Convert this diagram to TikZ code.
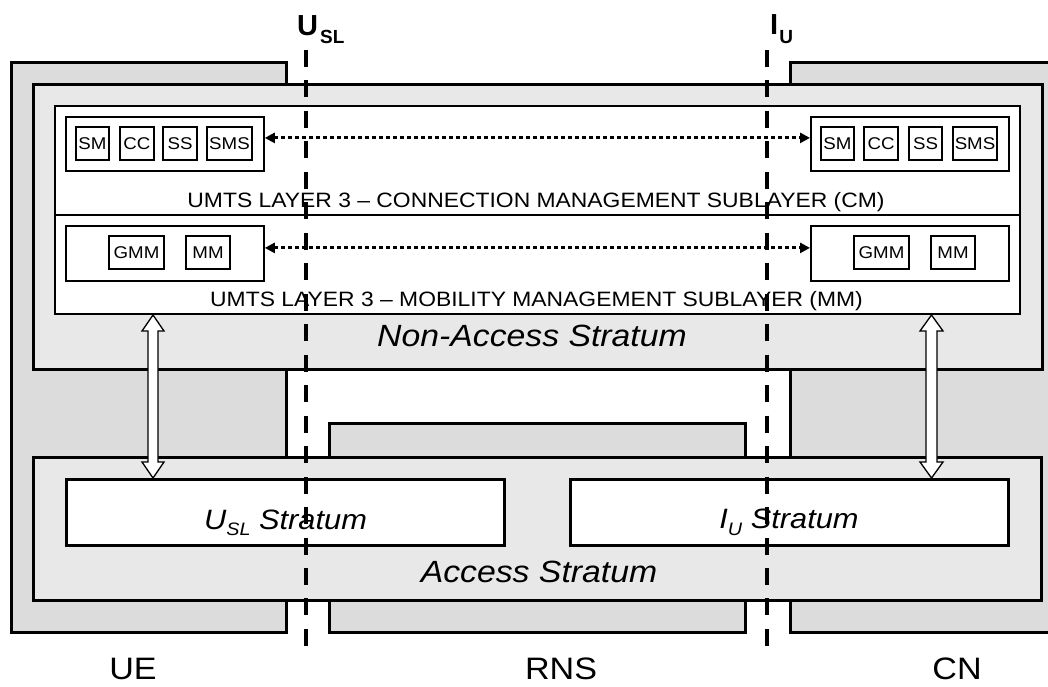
\documentclass[tikz,border=0pt]{standalone}
\usepackage{fontspec}
\setmainfont[FakeStretch=1.1]{Liberation Sans}
\newfontfamily\plainsans{Liberation Sans}
\usetikzlibrary{arrows.meta,calc}

\definecolor{regiongray}{RGB}{220,220,220}
\definecolor{stratgray}{RGB}{232,232,232}

\newcommand{\fs}[1]{\fontsize{#1}{#1}\selectfont}

% hollow double-headed arrow between two named tip points
% #1 top tip, #2 bottom tip, #3 shaft half width, #4 head half width, #5 head length
\newcommand{\hollowarrow}[5]{%
  \draw[hollow] let \p1=(#1), \p2=(#2) in
    (\x1,\y1) -- (\x1+#4,\y1-#5) -- (\x1+#3,\y1-#5) -- (\x2+#3,\y2+#5)
    -- (\x2+#4,\y2+#5) -- (\x2,\y2) -- (\x2-#4,\y2+#5) -- (\x2-#3,\y2+#5)
    -- (\x1-#3,\y1-#5) -- (\x1-#4,\y1-#5) -- cycle;}

\begin{document}
\begin{tikzpicture}[x=1pt,y=-1pt,
  region/.style={draw, line width=3pt, fill=regiongray, anchor=north west, inner sep=0pt},
  stratum/.style={draw, line width=3pt, fill=stratgray, anchor=north west, inner sep=0pt},
  band/.style={draw, line width=2pt, fill=white, anchor=north west, inner sep=0pt},
  group/.style={draw, line width=1.8pt, fill=white, anchor=north west, inner sep=0pt},
  entity/.style={draw, line width=1.4pt, fill=white, inner sep=0pt, minimum height=33pt, font=\fs{17}},
  stratbox/.style={draw, line width=2.5pt, fill=white, anchor=north west, inner sep=0pt,
    minimum width=438pt, minimum height=66pt},
  label/.style={anchor=base, inner sep=0pt},
  peer/.style={line width=3pt, dash pattern=on 3.5pt off 3.5pt,
    {Triangle[length=10pt,width=10pt]}-{Triangle[length=10pt,width=10pt]}},
  hollow/.style={draw, line width=1.3pt, fill=white, line join=miter},
  iface/.style={line width=4pt, dash pattern=on 17pt off 13.47pt}
]
\useasboundingbox (0,0) rectangle (1048,686);

% network domains
\node[region, minimum width=275pt, minimum height=570pt] (ue)  at (10,61) {};
\node[region, minimum width=270pt, minimum height=570pt] (cn)  at (789,61) {};
\node[region, minimum width=416pt, minimum height=209pt] (rns) at (328,422) {};

% strata
\node[stratum, minimum width=1009pt, minimum height=285pt] (nas) at (32,83) {};
\node[stratum, minimum width=1008pt, minimum height=143pt] (as)  at (32,456) {};

% layer 3 sublayers
\node[band, minimum width=965pt, minimum height=109pt] (cmband) at (54,105) {};
\node[band, minimum width=965pt, minimum height=99pt]  (mmband) at (54,214) {};

% CM entity groups
\node[group, minimum width=198pt, minimum height=54pt] (cmL) at (65,116) {};
\node[group, minimum width=198pt, minimum height=54pt] (cmR) at (810,116) {};
\node[entity, minimum width=33pt] (smL)  at (92.5,143.5) {SM};
\node[entity, minimum width=34pt] (ccL)  at (137,143.5) {CC};
\node[entity, minimum width=34pt] (ssL)  at (180,143.5) {SS};
\node[entity, minimum width=45pt] (smsL) at (229.5,143.5) {SMS};
\node[entity, minimum width=33pt] (smR)  at (837.5,143.5) {SM};
\node[entity, minimum width=34pt] (ccR)  at (881,143.5) {CC};
\node[entity, minimum width=33pt] (ssR)  at (925.5,143.5) {SS};
\node[entity, minimum width=44pt] (smsR) at (975,143.5) {SMS};

% MM entity groups
\node[group, minimum width=198pt, minimum height=55pt] (mmL) at (65,225) {};
\node[group, minimum width=198pt, minimum height=55pt] (mmR) at (810,225) {};
\node[entity, minimum width=55pt] (gmmL) at (136.5,252.5) {GMM};
\node[entity, minimum width=44pt] (mmeL) at (208,252.5) {MM};
\node[entity, minimum width=55pt] (gmmR) at (881.5,252.5) {GMM};
\node[entity, minimum width=44pt] (mmeR) at (953,252.5) {MM};

% sublayer and stratum captions
\node[label, font=\fs{20.8}] (cmtext) at (536,207.3) {UMTS LAYER 3 -- CONNECTION MANAGEMENT SUBLAYER (CM)};
\node[label, font=\fs{20.8}] (mmtext) at (536.5,306) {UMTS LAYER 3 -- MOBILITY MANAGEMENT SUBLAYER (MM)};
\node[label, font=\fs{30.7}\itshape] (nastext) at (532,346) {Non-Access Stratum};

% access stratum parts
\node[stratbox] (usl) at (65,478) {};
\node[stratbox] (iu)  at (569,478) {};
\node[label, font=\fs{28}\itshape] (usltext) at (285.5,529)
  {U\raisebox{-6pt}{\fs{18}SL} Stratum};
\node[label, font=\fs{28}\itshape] (iutext) at (789,528)
  {I\raisebox{-7pt}{\fs{18}U} Stratum};
\node[label, font=\fs{30.7}\itshape] (astext) at (539,582) {Access Stratum};

% domain names
\node[label, font=\fs{31}] (uetext)  at (133,679) {UE};
\node[label, font=\fs{31}] (rnstext) at (561,679) {RNS};
\node[label, font=\fs{31}] (cntext)  at (957,679) {CN};

% NAS <-> AS service access
\coordinate (ltop) at (153,0 |- mmband.south);
\coordinate (lbot) at (153,0 |- usl.north);
\coordinate (rtop) at (931.5,0 |- mmband.south);
\coordinate (rbot) at (931.5,0 |- iu.north);
\hollowarrow{ltop}{lbot}{5pt}{11pt}{16pt}
\hollowarrow{rtop}{rbot}{5.5pt}{11.5pt}{16pt}

% peer-to-peer signalling
\draw[peer] ([yshift=6pt]cmL.east) -- ([yshift=6pt]cmR.west);
\draw[peer] ([yshift=5.5pt]mmL.east) -- ([yshift=5.5pt]mmR.west);

% reference points
\node[anchor=base west, inner sep=0pt, font=\plainsans\bfseries\fs{29}] (usllabel) at (297,35)
  {U\kern2pt\raisebox{-8pt}{\fs{19}SL}};
\node[anchor=base west, inner sep=0pt, font=\plainsans\bfseries\fs{29}] (iulabel) at (770,34)
  {I\kern1pt\raisebox{-9pt}{\fs{19}U}};
\coordinate (uslA) at (305.7,50);
\coordinate (uslB) at (305.7,646);
\coordinate (iuA) at (766.7,50);
\coordinate (iuB) at (766.7,646);
\draw[iface] (uslA) -- (uslB);
\draw[iface] (iuA) -- (iuB);
\end{tikzpicture}
\end{document}
